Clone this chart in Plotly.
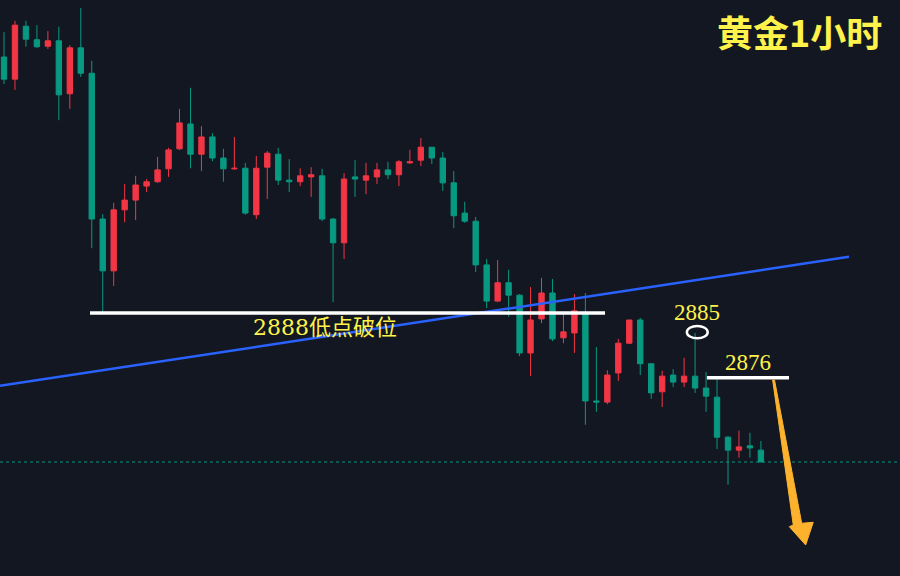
import plotly.graph_objects as go

# Candle data (hourly gold), index 0..69
opens = [2935.4, 2931.3, 2941.1, 2938.6, 2937.4, 2938.4, 2928.6, 2937.1, 2932.4, 2905.4,
         2895.8, 2907.1, 2908.9, 2911.5, 2912.3, 2914.7, 2918.4, 2923.0, 2917.4, 2920.6,
         2916.7, 2914.7, 2914.8, 2906.2, 2915.0, 2917.4, 2912.6, 2912.3, 2913.2, 2913.4,
         2905.4, 2901.0, 2913.2, 2912.6, 2913.2, 2914.5, 2913.6, 2915.8, 2916.3, 2918.7,
         2916.7, 2912.1, 2906.5, 2905.0, 2896.9, 2890.2, 2893.6, 2891.3, 2880.6, 2886.9,
         2891.7, 2883.4, 2884.3, 2888.0, 2871.7, 2871.5, 2876.9, 2882.4, 2886.7, 2878.6,
         2873.4, 2876.5, 2875.2, 2876.3, 2874.1, 2872.4, 2865.0, 2862.6, 2863.4, 2862.6]
highs = [2940.0, 2942.1, 2942.1, 2941.3, 2940.2, 2941.0, 2937.6, 2944.5, 2934.7, 2906.3,
         2908.4, 2911.9, 2913.4, 2912.8, 2916.9, 2918.6, 2925.8, 2929.7, 2922.6, 2921.3,
         2918.4, 2920.6, 2915.8, 2917.1, 2918.0, 2918.6, 2916.5, 2914.8, 2915.0, 2914.7,
         2905.6, 2913.9, 2916.3, 2915.8, 2915.8, 2916.0, 2916.3, 2918.2, 2920.4, 2918.7,
         2917.8, 2914.3, 2908.6, 2905.8, 2898.0, 2897.8, 2896.0, 2891.5, 2892.8, 2894.5,
         2894.3, 2888.0, 2891.5, 2891.7, 2881.7, 2877.4, 2883.2, 2886.7, 2887.1, 2878.6,
         2877.3, 2877.6, 2879.7, 2884.3, 2877.1, 2876.0, 2865.2, 2866.2, 2865.8, 2864.3]
lows = [2930.4, 2929.3, 2937.3, 2937.1, 2936.9, 2923.7, 2925.8, 2931.7, 2900.0, 2888.0,
        2893.0, 2904.8, 2905.2, 2910.4, 2912.1, 2913.2, 2918.2, 2914.8, 2914.3, 2916.1,
        2912.3, 2914.5, 2906.2, 2905.4, 2909.1, 2911.7, 2910.4, 2911.5, 2909.5, 2905.0,
        2890.0, 2898.0, 2909.5, 2910.0, 2911.9, 2912.8, 2911.5, 2915.6, 2915.2, 2915.6,
        2910.6, 2903.7, 2904.7, 2895.6, 2888.9, 2890.0, 2887.3, 2880.0, 2876.3, 2886.1,
        2882.8, 2882.4, 2880.6, 2867.3, 2869.7, 2871.1, 2875.4, 2882.3, 2876.5, 2872.1,
        2870.6, 2874.3, 2874.3, 2873.2, 2869.7, 2862.8, 2856.2, 2861.2, 2861.2, 2860.4]
closes = [2931.3, 2941.3, 2938.7, 2937.3, 2938.4, 2928.4, 2937.1, 2932.4, 2905.4, 2895.8,
          2907.1, 2908.9, 2911.7, 2912.3, 2914.5, 2918.2, 2923.2, 2917.4, 2920.6, 2916.7,
          2914.7, 2914.8, 2906.5, 2914.8, 2917.6, 2912.6, 2912.3, 2913.4, 2913.6, 2905.4,
          2901.0, 2912.8, 2912.8, 2913.4, 2914.5, 2913.6, 2916.0, 2916.0, 2918.7, 2916.7,
          2912.1, 2906.0, 2905.0, 2896.9, 2890.2, 2893.6, 2891.3, 2880.6, 2886.7, 2891.7,
          2883.2, 2884.5, 2888.4, 2871.7, 2871.5, 2876.5, 2882.4, 2886.7, 2878.6, 2873.2,
          2876.3, 2875.2, 2876.3, 2874.1, 2872.6, 2865.0, 2862.6, 2863.2, 2863.0, 2860.4]
idx = list(range(len(opens)))

title_text = "黄金1小时"
support_level = 2888
support_label = "2888低点破位"
high_level = 2885
resist_level = 2876

UP = "#F23645"    # red = rising
DOWN = "#089981"  # green = falling
YELLOW = "#FFF24A"
BG = "#131722"

fig = go.Figure()
fig.add_trace(go.Candlestick(
    x=idx, open=opens, high=highs, low=lows, close=closes,
    increasing=dict(line=dict(color=UP, width=1), fillcolor=UP),
    decreasing=dict(line=dict(color=DOWN, width=1), fillcolor=DOWN),
    whiskerwidth=0, hoverinfo="skip",
))

shapes = [
    # current price dotted line
    dict(type="line", xref="paper", x0=0, x1=1, yref="y", y0=closes[-1], y1=closes[-1],
         line=dict(color=DOWN, width=1, dash="dot")),
    # blue trend line
    dict(type="line", x0=-0.365, y0=2874.5, x1=77.03, y1=2898.4,
         line=dict(color="#2962FF", width=2.5)),
    # 2888 support line
    dict(type="line", x0=7.84, x1=54.79, y0=support_level, y1=support_level,
         line=dict(color="white", width=3.5)),
    # 2876 line
    dict(type="line", x0=64.08, x1=71.56, y0=resist_level, y1=resist_level,
         line=dict(color="white", width=3.5)),
    # circle on 2885 high
    dict(type="circle", x0=62.25, x1=64.15, y0=high_level - 1.7, y1=high_level + 0.6,
         line=dict(color="white", width=2.5)),
    # orange arrow
    dict(type="path",
         path="M 70.07 2875.6 L 70.24 2875.6 L 72.72 2849.05 L 73.77 2849.24 "
              "L 73.08 2845.03 L 71.59 2848.42 L 71.95 2848.74 Z",
         fillcolor="#FDB22E", line=dict(color="#FDB22E", width=1)),
]

font_num = "Liberation Serif, Noto Sans CJK SC"
annotations = [
    dict(text="<b>" + title_text + "</b>", xref="paper", yref="paper", x=0.888, y=0.946,
         showarrow=False, font=dict(size=36, color=YELLOW, family="Noto Sans CJK SC"),
         xanchor="center", yanchor="middle"),
    dict(text=support_label, x=29.26, y=2885.4, showarrow=False,
         font=dict(size=22, color=YELLOW, family="DejaVu Serif, Noto Sans CJK SC"),
         xanchor="center", yanchor="middle"),
    dict(text=str(high_level), x=63.2, y=2888.0, showarrow=False,
         font=dict(size=23, color=YELLOW, family=font_num), xanchor="center", yanchor="middle"),
    dict(text=str(resist_level), x=67.8, y=2878.8, showarrow=False,
         font=dict(size=23, color=YELLOW, family=font_num), xanchor="center", yanchor="middle"),
]

fig.update_layout(
    width=900, height=576,
    margin=dict(l=0, r=0, t=0, b=0),
    paper_bgcolor=BG, plot_bgcolor=BG,
    showlegend=False,
    shapes=shapes, annotations=annotations,
    xaxis=dict(range=[-0.365, 81.68], visible=False, rangeslider=dict(visible=False),
               fixedrange=True),
    yaxis=dict(range=[2839.29, 2945.96], visible=False, fixedrange=True),
)

fig.write_html(
    "out.html",
    config={"displayModeBar": False},
    post_script="document.body.style.margin='0';document.body.style.background='#131722';"
                "document.body.style.overflow='hidden';",
)
